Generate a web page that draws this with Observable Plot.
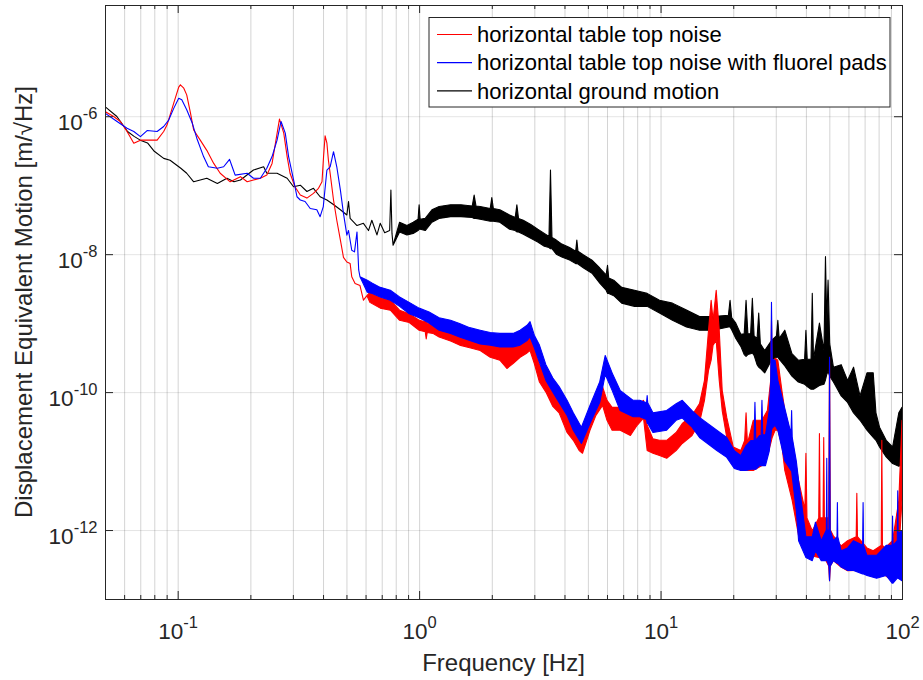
<!DOCTYPE html>
<html><head><meta charset="utf-8">
<script src="https://cdn.jsdelivr.net/npm/d3@7"></script>
<script src="https://cdn.jsdelivr.net/npm/@observablehq/plot@0.6"></script>
<style>
html,body{margin:0;padding:0;background:#fff;}
#chart{width:923px;height:680px;}
</style></head>
<body><div id="chart"></div>
<script>
// ---- axis ticks ----
const xMajorTicks = [0.1, 1, 10, 100];
const xTickLabels = ["-1", "0", "1", "2"];
const xMinorTicks = [0.06,0.07,0.08,0.09,0.2,0.3,0.4,0.5,0.6,0.7,0.8,0.9,2,3,4,5,6,7,8,9,20,30,40,50,60,70,80,90];
const yMajorTicks = [1e-12, 1e-10, 1e-8, 1e-6];
const yTickLabels = ["-12", "-10", "-8", "-6"];

// ---- legend ----
const seriesNames = ["horizontal table top noise", "horizontal table top noise with fluorel pads", "horizontal ground motion"];
const seriesColors = ["#ff0000", "#0000ff", "#000000"];

// ---- series: [frequency Hz, lower envelope, upper envelope] (m/√Hz) ----
const groundMotion = [
 [0.05,1.38e-6,1.38e-6],[0.056,9.9e-7,9.9e-7],[0.062,6.0e-7,6.0e-7],[0.066,5.1e-7,5.1e-7],
 [0.070,4.5e-7,4.5e-7],[0.075,4.1e-7,4.1e-7],[0.080,3.1e-7,3.1e-7],[0.0875,2.45e-7,2.45e-7],
 [0.093,2.3e-7,2.3e-7],[0.103,1.76e-7,1.76e-7],[0.109,1.49e-7,1.49e-7],[0.1165,1.12e-7,1.12e-7],
 [0.124,1.19e-7,1.19e-7],[0.132,1.26e-7,1.26e-7],[0.146,1.06e-7,1.06e-7],[0.160,1.26e-7,1.26e-7],
 [0.171,1.12e-7,1.12e-7],[0.182,1.19e-7,1.19e-7],[0.206,1.66e-7,1.66e-7],[0.227,1.85e-7,1.85e-7],
 [0.234,1.49e-7,1.49e-7],[0.258,1.49e-7,1.49e-7],[0.284,1.26e-7,1.26e-7],[0.302,9.5e-8,9.5e-8],
 [0.322,1.0e-7,1.0e-7],[0.343,8.1e-8,8.1e-8],[0.365,9.0e-8,9.0e-8],[0.389,6.8e-8,6.8e-8],
 [0.415,6.1e-8,6.1e-8],[0.443,5.2e-8,5.2e-8],[0.472,4.4e-8,4.4e-8],[0.502,3.7e-8,3.7e-8],
 [0.510,5.8e-8,5.8e-8],[0.518,3.3e-8,3.3e-8],[0.553,2.6e-8,2.6e-8],[0.588,2.8e-8,2.8e-8],
 [0.617,2.2e-8,2.2e-8],[0.637,3.1e-8,3.1e-8],[0.669,1.9e-8,1.9e-8],[0.690,2.8e-8,2.8e-8],
 [0.720,2.05e-8,2.05e-8],[0.755,2.2e-8,2.2e-8],[0.764,8.5e-8,8.5e-8],[0.772,2.0e-8,2.0e-8],
 [0.780,1.35e-8,1.35e-8],[0.83,2.1e-8,2.9e-8],[0.89,1.9e-8,2.6e-8],[0.945,2.0e-8,2.9e-8],
 [0.99,2.2e-8,3.2e-8],[1.0,2.3e-8,5.2e-8],[1.01,2.3e-8,3.2e-8],[1.06,2.2e-8,3.3e-8],
 [1.13,2.9e-8,4.4e-8],[1.21,3.3e-8,4.9e-8],[1.35,3.5e-8,5.2e-8],[1.49,3.5e-8,5.2e-8],
 [1.66,3.4e-8,5.0e-8],[1.69,3.3e-8,7.2e-8],[1.72,3.3e-8,5.0e-8],[1.79,3.2e-8,4.9e-8],
 [1.97,3.0e-8,4.6e-8],[2.0,3.0e-8,6.6e-8],[2.03,3.0e-8,4.6e-8],[2.16,2.9e-8,4.4e-8],
 [2.37,2.3e-8,3.7e-8],[2.50,2.2e-8,3.4e-8],[2.54,2.1e-8,5.2e-8],[2.58,2.1e-8,3.3e-8],
 [2.7,1.95e-8,3.1e-8],[2.9,1.7e-8,2.7e-8],[3.1,1.5e-8,2.3e-8],[3.3,1.3e-8,2.0e-8],
 [3.45,1.25e-8,1.8e-8],[3.5,1.2e-8,1.66e-7],[3.55,1.2e-8,1.75e-8],[3.7,1.0e-8,1.6e-8],
 [3.9,9.1e-9,1.4e-8],[4.2,8.2e-9,1.25e-8],[4.45,7.3e-9,1.1e-8],[4.5,7.3e-9,1.6e-8],
 [4.55,7.2e-9,1.1e-8],[4.8,6.3e-9,9.7e-9],[5.2,5.3e-9,8.2e-9],[5.6,3.8e-9,6.3e-9],
 [5.95,3.0e-9,5.0e-9],[6.03,2.7e-9,6.9e-9],[6.1,2.7e-9,4.5e-9],[6.4,2.5e-9,4.2e-9],
 [6.9,1.95e-9,3.3e-9],[7.8,1.75e-9,3.0e-9],[8.8,1.75e-9,2.7e-9],[9.9,1.4e-9,2.15e-9],
 [11.2,1.1e-9,1.95e-9],[12.8,8.8e-10,1.55e-9],[14.5,7.9e-10,1.25e-9],[16.5,7.9e-10,1.25e-9],
 [19.1,8.8e-10,1.3e-9],[19.4,8.8e-10,2.15e-9],[19.7,8.0e-10,1.2e-9],[20.5,6.0e-10,1.0e-9],
 [21.5,4.6e-10,6.9e-10],[22.2,3.5e-10,7.0e-10],[22.6,3.3e-10,2.15e-9],[23.0,3.5e-10,7.0e-10],
 [23.6,3.6e-10,7.0e-10],[24.0,3.7e-10,2.3e-9],[24.4,3.4e-10,6.5e-10],[25.1,2.5e-10,6.0e-10],
 [25.5,2.3e-10,1.4e-9],[25.9,2.2e-10,5.0e-10],[27.0,1.9e-10,4.0e-10],[28.8,2.9e-10,5.6e-10],
 [30.2,3.2e-10,6.5e-10],[30.6,3.2e-10,1.1e-9],[31.0,3.0e-10,6.0e-10],[32.7,2.4e-10,7.9e-10],
 [35,1.7e-10,3.6e-10],[37.2,1.4e-10,2.9e-10],[39.5,1.3e-10,3.0e-10],[40.0,1.25e-10,7.9e-10],
 [40.5,1.2e-10,3.0e-10],[42.0,1.1e-10,3.0e-10],[42.5,1.1e-10,2.7e-9],[43.0,1.1e-10,3.0e-10],
 [45.5,1.25e-10,1.0e-9],[47.5,1.3e-10,4.0e-10],[48.2,1.5e-10,9.2e-9],[48.8,1.8e-10,1.0e-9],
 [49.4,2.0e-10,4.2e-9],[50.2,1.7e-10,5.0e-10],[52,1.4e-10,2.3e-10],[56,8.8e-11,2.5e-10],
 [59.5,7.1e-11,1.48e-10],[63,5.0e-11,2.3e-10],[67,3.9e-11,8.8e-11],[71.6,2.8e-11,1.9e-10],
 [76,2.2e-11,1.9e-10],[78,2.0e-11,5.0e-11],[80.7,1.6e-11,3.1e-11],[86,1.15e-11,2.0e-11],
 [91.4,9.2e-12,1.6e-11],[97,8.4e-12,5.0e-11],[100,9.0e-12,6.0e-11]
];

const tableTop = [
 [0.05,1.17e-6,1.17e-6],[0.0543,9.9e-7,9.9e-7],[0.0579,8.4e-7,8.4e-7],[0.0617,6.0e-7,6.0e-7],
 [0.0658,4.06e-7,4.06e-7],[0.0701,4.5e-7,4.5e-7],[0.0747,4.5e-7,4.5e-7],[0.0822,4.5e-7,4.5e-7],
 [0.0875,6.0e-7,6.0e-7],[0.0904,7.5e-7,7.5e-7],[0.0963,1.55e-6,1.55e-6],[0.101,2.64e-6,2.64e-6],
 [0.1026,2.85e-6,2.85e-6],[0.106,2.55e-6,2.55e-6],[0.109,2.04e-6,2.04e-6],[0.113,1.11e-6,1.11e-6],
 [0.1165,6.3e-7,6.3e-7],[0.124,4.5e-7,4.5e-7],[0.132,3.2e-7,3.2e-7],[0.141,2.07e-7,2.07e-7],
 [0.150,1.49e-7,1.49e-7],[0.165,1.12e-7,1.12e-7],[0.182,1.33e-7,1.33e-7],[0.194,1.12e-7,1.12e-7],
 [0.206,1.19e-7,1.19e-7],[0.220,1.26e-7,1.26e-7],[0.234,1.40e-7,1.40e-7],[0.246,2.07e-7,2.07e-7],
 [0.254,4.06e-7,4.06e-7],[0.264,9.1e-7,9.1e-7],[0.275,5.7e-7,5.7e-7],[0.284,2.6e-7,2.6e-7],
 [0.292,1.49e-7,1.49e-7],[0.306,9.5e-8,9.5e-8],[0.322,7.2e-8,7.2e-8],[0.343,6.5e-8,6.5e-8],
 [0.365,7.6e-8,7.6e-8],[0.383,9.0e-8,9.0e-8],[0.396,1.12e-7,1.12e-7],[0.402,2.6e-7,2.6e-7],
 [0.408,5.2e-7,5.2e-7],[0.415,4.06e-7,4.06e-7],[0.421,2.3e-7,2.3e-7],[0.428,1.49e-7,1.49e-7],
 [0.442,6.1e-8,6.1e-8],[0.456,3.1e-8,3.1e-8],[0.472,1.6e-8,1.6e-8],[0.486,9.0e-9,9.0e-9],
 [0.502,7.7e-9,7.7e-9],[0.518,7.3e-9,7.3e-9],[0.526,4.7e-9,4.7e-9],[0.543,3.75e-9,3.75e-9],
 [0.569,3.5e-9,3.5e-9],[0.588,2.15e-9,2.15e-9],[0.608,2.5e-9,2.5e-9],
 [0.625,2.0e-9,2.8e-9],[0.69,1.65e-9,2.35e-9],[0.76,1.54e-9,2.15e-9],[0.83,1.1e-9,1.54e-9],
 [0.91,1.02e-9,1.37e-9],[1.0,7.9e-10,1.1e-9],[1.06,7.5e-10,1.05e-9],[1.07,5.9e-10,1.05e-9],
 [1.08,7.3e-10,1.0e-9],[1.14,7.1e-10,9.9e-10],[1.21,6.3e-10,8.6e-10],[1.35,5.5e-10,7.9e-10],
 [1.47,4.8e-10,7.1e-10],[1.62,4.4e-10,6.3e-10],[1.79,4.0e-10,5.6e-10],[1.97,3.2e-10,5.3e-10],
 [2.16,2.9e-10,5.0e-10],[2.31,2.2e-10,4.8e-10],[2.45,2.6e-10,4.6e-10],[2.62,3.2e-10,5.0e-10],
 [2.8,3.7e-10,6.0e-10],[2.88,4.0e-10,6.7e-10],[3.0,2.6e-10,4.8e-10],[3.15,1.4e-10,2.5e-10],
 [3.35,1.0e-10,1.75e-10],[3.58,6.2e-11,1.06e-10],[3.8,5.0e-11,8.0e-11],[4.1,2.6e-11,5.0e-11],
 [4.35,2.0e-11,3.9e-11],[4.6,1.42e-11,2.8e-11],[4.75,1.3e-11,2.35e-11],[5.1,2.8e-11,6.0e-11],
 [5.4,4.6e-11,8.9e-11],[5.75,6.4e-11,1.2e-10],[6.0,3.9e-11,7.6e-11],[6.3,2.8e-11,6.0e-11],
 [6.8,2.8e-11,6.0e-11],[7.5,2.35e-11,5.4e-11],[8.0,3.3e-11,6.4e-11],[8.5,4.2e-11,7.6e-11],
 [8.8,1.42e-11,3.3e-11],[9.3,1.3e-11,2.1e-11],[9.9,1.2e-11,2.0e-11],[10.6,1.1e-11,2.0e-11],
 [11.6,1.42e-11,2.6e-11],[12.3,1.8e-11,3.5e-11],[13.5,2.35e-11,4.6e-11],[14.5,3.6e-11,6.8e-11],
 [15.2,7.6e-11,1.48e-10],[15.8,2.07e-10,7.9e-10],[16.2,2.9e-10,2.15e-9],[16.5,4.8e-10,1.1e-9],
 [17.0,5.6e-10,3.0e-9],[17.5,1.48e-10,7.9e-10],[18.0,5.4e-11,1.06e-10],[18.8,2.2e-11,4.3e-11],
 [20.0,1.0e-11,1.6e-11],[21.5,7.3e-12,1.42e-11],[22.3,7.3e-12,1.99e-11],[22.6,7.5e-12,5.0e-11],
 [22.9,7.3e-12,1.8e-11],[24.2,7.3e-12,3.9e-11],[26.3,8.6e-12,3.9e-11],[27.7,1.2e-11,5.4e-11],
 [28.6,1.8e-11,1.5e-10],[28.8,2.0e-11,1.1e-9],[29.0,2.2e-11,2.0e-10],[29.8,2.8e-11,3.1e-10],
 [30.6,2.8e-11,2.9e-10],[31.8,1.7e-11,1.06e-10],[32.7,7.3e-12,5.4e-11],[35.1,2.67e-12,2.0e-11],
 [37.3,8.3e-13,5.2e-12],[39.6,5.5e-13,2.0e-12],[40.0,5.5e-13,1.3e-11],[40.4,5.0e-13,1.5e-12],
 [42.5,4.2e-13,9.8e-13],[45.2,4.0e-13,1.5e-12],[45.5,4.0e-13,2.5e-11],[45.8,4.0e-13,1.5e-12],
 [47.1,4.0e-13,1.5e-12],[47.4,4.0e-13,2.2e-11],[47.7,4.0e-13,1.5e-12],[49.7,3.0e-13,1.5e-12],
 [50.1,1.84e-13,3.2e-10],[50.5,3.0e-13,1.0e-12],[51.9,3.6e-13,8.3e-13],[55.9,2.9e-13,5.9e-13],
 [59.5,2.57e-13,7.0e-13],[64.6,2.6e-13,8.0e-13],[65.0,2.6e-13,3.4e-12],[65.4,2.6e-13,8.0e-13],
 [71.6,2.5e-13,5.5e-13],[76,2.2e-13,5.0e-13],[82.0,2.2e-13,6.0e-13],[82.5,2.2e-13,2.0e-11],
 [83.0,2.2e-13,6.0e-13],[85,2.2e-13,5.5e-13],[91.4,1.84e-13,7.0e-13],[97,5.0e-13,2.67e-12],
 [100,2.7e-12,3.9e-11]
];

const tableTopPads = [
 [0.05,1.11e-6,1.11e-6],[0.0561,8.4e-7,8.4e-7],[0.0617,6.7e-7,6.7e-7],[0.0658,6.0e-7,6.0e-7],
 [0.0701,5.06e-7,5.06e-7],[0.0747,6.2e-7,6.2e-7],[0.0822,6.0e-7,6.0e-7],[0.0875,7.1e-7,7.1e-7],
 [0.0918,8.8e-7,8.8e-7],[0.0963,1.3e-6,1.3e-6],[0.101,1.82e-6,1.82e-6],[0.104,1.73e-6,1.73e-6],
 [0.109,1.24e-6,1.24e-6],[0.115,7.9e-7,7.9e-7],[0.120,4.8e-7,4.8e-7],[0.128,2.6e-7,2.6e-7],
 [0.134,1.85e-7,1.85e-7],[0.146,1.76e-7,1.76e-7],[0.155,1.85e-7,1.85e-7],[0.164,2.37e-7,2.37e-7],
 [0.170,1.66e-7,1.66e-7],[0.173,1.40e-7,1.40e-7],[0.194,1.49e-7,1.49e-7],[0.206,1.26e-7,1.26e-7],
 [0.220,1.26e-7,1.26e-7],[0.234,1.76e-7,1.76e-7],[0.246,2.6e-7,2.6e-7],[0.258,4.5e-7,4.5e-7],
 [0.268,8.4e-7,8.4e-7],[0.279,5.7e-7,5.7e-7],[0.288,2.6e-7,2.6e-7],[0.302,1.19e-7,1.19e-7],
 [0.312,6.8e-8,6.8e-8],[0.322,6.1e-8,6.1e-8],[0.337,5.8e-8,5.8e-8],[0.354,4.6e-8,4.6e-8],
 [0.377,4.4e-8,4.4e-8],[0.389,3.5e-8,3.5e-8],[0.401,4.9e-8,4.9e-8],[0.415,1.66e-7,1.66e-7],
 [0.428,1.85e-7,1.85e-7],[0.442,3.06e-7,3.06e-7],[0.456,1.85e-7,1.85e-7],[0.472,8.5e-8,8.5e-8],
 [0.486,3.9e-8,3.9e-8],[0.502,1.89e-8,1.89e-8],[0.510,2.2e-8,2.2e-8],[0.526,1.14e-8,1.14e-8],
 [0.540,1.08e-8,1.08e-8],[0.553,2.1e-8,2.1e-8],[0.562,5.9e-9,5.9e-9],[0.569,4.7e-9,4.7e-9],
 [0.61,2.8e-9,4.2e-9],[0.64,2.7e-9,3.8e-9],[0.69,2.4e-9,3.3e-9],[0.76,2.15e-9,3.0e-9],
 [0.83,1.75e-9,2.4e-9],[0.91,1.37e-9,2.0e-9],[1.0,1.2e-9,1.65e-9],[1.1,1.0e-9,1.45e-9],
 [1.21,7.9e-10,1.2e-9],[1.35,7.1e-10,1.1e-9],[1.47,6.3e-10,9.9e-10],[1.62,5.6e-10,8.6e-10],
 [1.79,5.0e-10,7.9e-10],[1.97,4.8e-10,7.3e-10],[2.16,4.5e-10,7.1e-10],[2.45,4.5e-10,7.1e-10],
 [2.62,4.8e-10,7.9e-10],[2.8,5.6e-10,9.3e-10],[2.88,6.3e-10,1.05e-9],[3.0,4.4e-10,6.7e-10],
 [3.15,2.7e-10,4.8e-10],[3.35,1.48e-10,2.5e-10],[3.58,1.0e-10,1.6e-10],[3.8,7.1e-11,1.2e-10],
 [4.1,4.6e-11,7.6e-11],[4.35,2.8e-11,5.0e-11],[4.7,1.8e-11,3.1e-11],[5.1,3.5e-11,6.4e-11],
 [5.6,7.1e-11,1.42e-10],[5.9,1.8e-10,3.4e-10],[6.3,1.06e-10,1.9e-10],[6.8,5.4e-11,1.06e-10],
 [7.7,4.4e-11,7.6e-11],[8.2,4.4e-11,7.6e-11],[8.75,4.0e-11,7.0e-11],[8.8,3.5e-11,8.9e-11],
 [8.85,3.5e-11,7.0e-11],[9.3,2.6e-11,5.0e-11],[10.6,2.8e-11,5.4e-11],[11.6,3.9e-11,6.8e-11],
 [12.3,4.2e-11,7.6e-11],[13.5,3.1e-11,5.4e-11],[14.5,2.2e-11,4.3e-11],[17.1,1.42e-11,2.8e-11],
 [18.8,1.13e-11,2.2e-11],[20.2,7.8e-12,1.42e-11],[21.5,7.3e-12,1.2e-11],[22.6,7.3e-12,1.68e-11],
 [23.7,7.6e-12,1.99e-11],[24.4,7.6e-12,2.0e-11],[24.6,7.6e-12,7.1e-11],[24.8,7.6e-12,2.0e-11],
 [25.7,8.6e-12,2.35e-11],[26.1,8.6e-12,2.35e-11],[26.3,8.6e-12,7.6e-11],[26.5,8.6e-12,2.4e-11],
 [27.2,8.6e-12,2.4e-11],[28.2,1.4e-11,5.4e-11],[28.6,2.2e-11,1.5e-10],[28.8,2.8e-11,2.0e-9],
 [29.0,3.0e-11,3.0e-10],[29.8,3.3e-11,2.9e-10],[30.6,2.8e-11,1.48e-10],[32.7,1.0e-11,5.8e-11],
 [34.7,7.3e-12,2.5e-11],[34.9,7.3e-12,5.4e-11],[35.1,6.0e-12,2.2e-11],[36.5,1.9e-12,1.0e-11],
 [37.3,7.0e-13,5.2e-12],[40.0,4.0e-13,8.0e-13],[42.5,3.6e-13,8.0e-13],[43.8,5.0e-13,1.3e-12],
 [46.3,3.6e-13,7.0e-13],[48.6,3.6e-13,1.0e-12],[48.8,3.6e-13,1.1e-11],[49.0,3.5e-13,1.0e-12],
 [49.8,3.0e-13,1.0e-12],[50.1,1.84e-13,3.2e-10],[50.4,3.0e-13,1.0e-12],[52,3.6e-13,7.0e-13],
 [53.8,3.3e-13,8.0e-13],[54.0,3.3e-13,2.5e-12],[54.2,3.3e-13,8.0e-13],[56,2.9e-13,5.0e-13],
 [59.5,2.6e-13,5.5e-13],[63,2.6e-13,7.0e-13],[68.7,2.3e-13,6.0e-13],[69.0,2.3e-13,2.5e-12],
 [69.3,2.3e-13,6.0e-13],[71.6,2.2e-13,4.3e-13],[78.5,2.0e-13,4.3e-13],[86,2.2e-13,6.0e-13],
 [91.0,1.7e-13,6.0e-13],[91.4,1.7e-13,1.6e-12],[91.8,1.7e-13,6.0e-13],[95.6,2.0e-13,7.0e-13],
 [96,2.0e-13,3.7e-12],[96.4,2.0e-13,9.0e-13],[100,1.84e-13,9.8e-13]
];

// ---- layout ----
const W = 923, H = 680;
const mL = 105, mR = 21, mT = 5, mB = 81;
const innerW = W - mL - mR, innerH = H - mT - mB;
const FONT = "'Liberation Sans', Arial, Helvetica, sans-serif";
const AX = "#262626";

function band(data, color) {
  return Plot.areaY(data, {x: d => d[0], y1: d => d[1], y2: d => d[2],
    fill: color, stroke: color, strokeWidth: 1.1, strokeLinejoin: "round", clip: true});
}

const svg = Plot.plot({
  width: W, height: H,
  marginLeft: mL, marginRight: mR, marginTop: mT, marginBottom: mB,
  style: {fontFamily: FONT, fontSize: "22px", color: AX, background: "#fff", overflow: "visible"},
  x: {type: "log", domain: [0.05, 100], axis: null},
  y: {type: "log", domain: [1e-13, 4.1e-5], axis: null},
  marks: [
    Plot.gridX(xMinorTicks, {stroke: AX, strokeOpacity: 0.2}),
    Plot.gridX(xMajorTicks, {stroke: AX, strokeOpacity: 0.2}),
    Plot.gridY(yMajorTicks, {stroke: AX, strokeOpacity: 0.12}),
    band(groundMotion, seriesColors[2]),
    band(tableTop, seriesColors[0]),
    band(tableTopPads, seriesColors[1]),
    Plot.frame({stroke: AX, strokeWidth: 1}),
    Plot.tickX(xMajorTicks, {x: d => d, insetTop: innerH - 8, stroke: AX}),
    Plot.tickX(xMajorTicks, {x: d => d, insetBottom: innerH - 8, stroke: AX}),
    Plot.tickX(xMinorTicks, {x: d => d, insetTop: innerH - 4, stroke: AX}),
    Plot.tickX(xMinorTicks, {x: d => d, insetBottom: innerH - 4, stroke: AX}),
    Plot.tickY(yMajorTicks, {y: d => d, insetRight: innerW - 8, stroke: AX}),
    Plot.tickY(yMajorTicks, {y: d => d, insetLeft: innerW - 8, stroke: AX}),
    Plot.axisX(xMajorTicks, {tickSize: 0, tickPadding: 0, label: null, fontSize: 22, fill: AX,
      tickFormat: d => xTickLabels[xMajorTicks.indexOf(d)]}),
    Plot.axisY(yMajorTicks, {tickSize: 0, tickPadding: 8, label: null, fontSize: 22, fill: AX,
      tickFormat: d => yTickLabels[yMajorTicks.indexOf(d)]})
  ]
});

const s = d3.select(svg);
function superscript(sel, dy) {
  sel.each(function() {
    const exp = this.textContent;
    const t = d3.select(this);
    t.text(null).attr("y", null).attr("dy", dy).style("font-variant", "normal");
    t.append("tspan").attr("font-size", 22.5).text("10");
    t.append("tspan").attr("dy", -11).attr("font-size", 16.5).text(exp);
  });
}
superscript(s.selectAll('g[aria-label^="x-axis"] text'), 39);
superscript(s.selectAll('g[aria-label^="y-axis"] text'), 13);

// axis titles
s.append("text").attr("x", mL + innerW / 2).attr("y", 671)
  .attr("text-anchor", "middle").attr("font-family", FONT).attr("font-size", 24).attr("fill", AX)
  .text("Frequency [Hz]");
s.append("text").attr("transform", `translate(32,${mT + innerH / 2}) rotate(-90)`)
  .attr("text-anchor", "middle").attr("font-family", FONT).attr("font-size", 24).attr("fill", AX)
  .text("Displacement Equivalent Motion [m/\u221AHz]");

// legend
const lg = s.append("g").attr("transform", "translate(429,17.5)");
lg.append("rect").attr("width", 461).attr("height", 89.5).attr("fill", "#fff").attr("stroke", AX).attr("stroke-width", 1);
seriesNames.forEach((name, i) => {
  const yy = 17 + i * 28.2;
  lg.append("line").attr("x1", 8).attr("x2", 43).attr("y1", yy).attr("y2", yy)
    .attr("stroke", seriesColors[i]).attr("stroke-width", 1.2);
  lg.append("text").attr("x", 48).attr("y", yy).attr("dy", "0.35em").attr("text-anchor", "start")
    .attr("font-family", FONT).attr("font-size", 22).attr("fill", "#000").text(name);
});

document.getElementById("chart").appendChild(svg);
</script>
</body></html>
